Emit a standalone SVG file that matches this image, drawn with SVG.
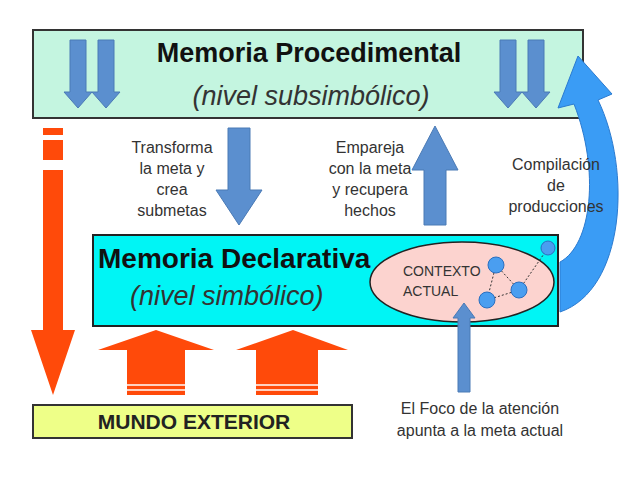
<svg xmlns="http://www.w3.org/2000/svg" width="640" height="479" viewBox="0 0 640 479">
<style>
.t{font-family:"Liberation Sans",Arial,sans-serif;fill:#333}
.s{font-size:16px;text-anchor:middle}
.b{fill:#5b8fcf;stroke:#4a7ab5;stroke-width:1}
.o{fill:#ff4a0a}
</style>
<rect width="640" height="479" fill="#fff"/>
<g id="procedimental">
<rect x="33" y="30" width="550" height="88" fill="#c4f5e0" stroke="#333" stroke-width="2"/>
<text class="t" x="309" y="62" font-size="27" font-weight="bold" text-anchor="middle" style="fill:#111">Memoria Procedimental</text>
<text class="t" x="311" y="105" font-size="27" font-style="italic" text-anchor="middle">(nivel subsimbólico)</text>
<g class="b">
<path d="M70,40 H86 V92 H92 L78,108 L64,92 H70 Z"/>
<path d="M98,40 H114 V92 H120 L106,108 L92,92 H98 Z"/>
<path d="M500,40 H516 V92 H522 L508,108 L494,92 H500 Z"/>
<path d="M528,40 H544 V92 H550 L536,108 L522,92 H528 Z"/>
</g>
</g>
<g id="declarativa">
<rect x="93" y="235" width="465" height="91" fill="#00f5f5" stroke="#222" stroke-width="2"/>
<text class="t" x="98" y="268" font-size="28" font-weight="bold" style="fill:#111">Memoria Declarativa</text>
<text class="t" x="130" y="305" font-size="27" font-style="italic">(nivel simbólico)</text>
<ellipse cx="462" cy="282" rx="92" ry="40" fill="#fcd3cf" stroke="#222" stroke-width="1.5"/>
<text class="t" x="403" y="276" font-size="14">CONTEXTO</text>
<text class="t" x="403" y="296" font-size="14">ACTUAL</text>
<g stroke="#333" stroke-width="1" stroke-dasharray="2,2">
<line x1="496" y1="265" x2="519" y2="290"/><line x1="519" y1="290" x2="487" y2="300"/><line x1="496" y1="265" x2="487" y2="300"/><line x1="519" y1="290" x2="548" y2="248"/>
</g>
<g fill="#4a9ef0" stroke="#2a6fc0">
<circle cx="496" cy="265" r="8"/><circle cx="519" cy="290" r="8"/><circle cx="487" cy="300" r="8"/><circle cx="548" cy="248" r="7"/>
</g>
</g>
<g id="mundo">
<rect x="33" y="405" width="319" height="33" fill="#eeff88" stroke="#333" stroke-width="2"/>
<text class="t" x="194" y="429" font-size="21" font-weight="bold" text-anchor="middle" style="fill:#222">MUNDO EXTERIOR</text>
</g>
<g id="connectors">
<g class="o">
<rect x="43" y="128" width="20" height="7"/>
<rect x="43" y="140" width="20" height="20"/>
<path d="M43,170 H63 V330 H75 L53,395 L31,330 H43 Z"/>
<path d="M127,395 V350 H98 L156,330 L214,350 H185 V395 Z"/>
<path d="M256,395 V350 H236 L293,330 L348,350 H318 V395 Z"/>
</g>
<g stroke="#fff" stroke-width="1.5"><line x1="127" y1="385" x2="185" y2="385"/><line x1="127" y1="390" x2="185" y2="390"/><line x1="256" y1="385" x2="318" y2="385"/><line x1="256" y1="390" x2="318" y2="390"/></g>
<path class="b" d="M228,128 H250 V190 H262 L239,225 L216,190 H228 Z"/>
<path class="b" d="M424,225 V170 H412 L435,126 L458,170 H446 V225 Z"/>
<path class="b" d="M458,392 V318 H453 L464,303 L475,318 H470 V392 Z"/>
<path d="M560,312 C625,290 632,170 598,100 L612,94 L578,56 L558,108 L574,104 C600,170 592,245 560,262 Z" fill="#3a9cf5" stroke="#2a7ad0"/>
</g>
<g class="t s">
<text x="172" y="153">Transforma</text><text x="172" y="174">la meta y</text><text x="172" y="195">crea</text><text x="172" y="216">submetas</text>
<text x="370" y="153">Empareja</text><text x="370" y="174">con la meta</text><text x="370" y="195">y recupera</text><text x="370" y="216">hechos</text>
<text x="556" y="170">Compilación</text><text x="556" y="191">de</text><text x="556" y="212">producciones</text>
<text x="480" y="414">El Foco de la atención</text><text x="480" y="436">apunta a la meta actual</text>
</g>
</svg>
